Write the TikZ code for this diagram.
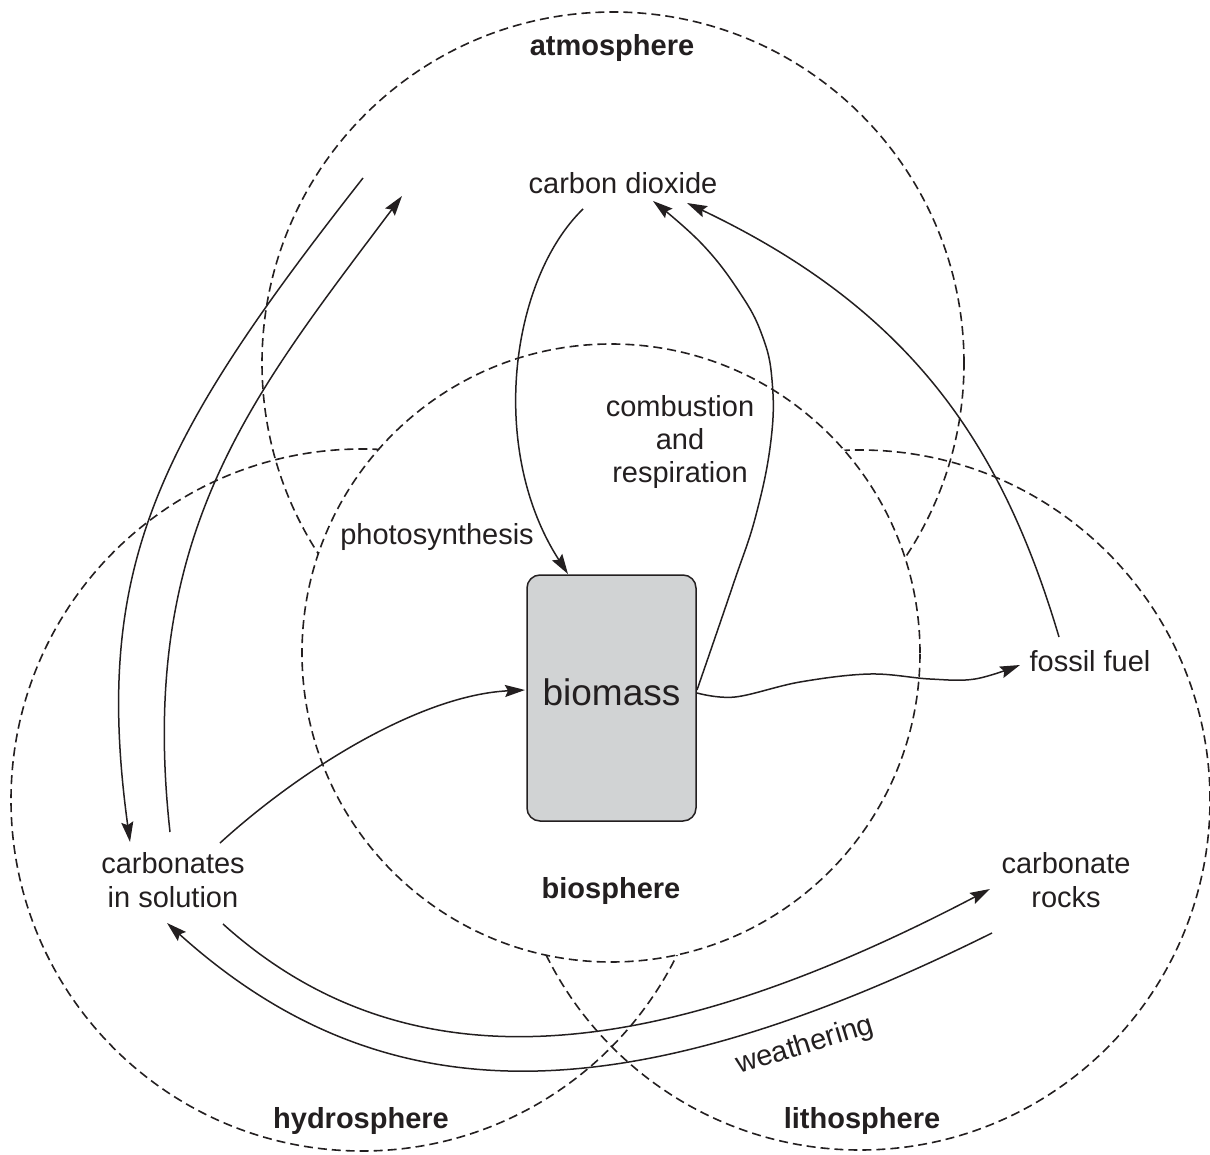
\documentclass[tikz,border=0pt]{standalone}
\usepackage{fontspec}
\setmainfont{Liberation Sans}
\usetikzlibrary{arrows.meta}
\definecolor{ink}{RGB}{35,31,32}
\definecolor{boxgray}{RGB}{209,211,212}
\begin{document}
\begin{tikzpicture}[x=0.5pt,y=-0.5pt,
  sphere/.style={circle, draw=ink, line width=0.8pt, dash pattern=on 4.5pt off 2.5pt, inner sep=0pt, outer sep=0pt},
  lbl/.style={text=ink, font=\fontsize{14.5pt}{16.7pt}\selectfont, align=center, inner sep=0pt},
  blbl/.style={text=ink, font=\fontsize{14.5pt}{16.7pt}\selectfont\bfseries, align=center, inner sep=0pt},
  flow/.style={draw=ink, line width=0.75pt, -{Stealth[length=10pt,width=6pt,inset=1.5pt]}},
]
\useasboundingbox (0,0) rectangle (1210,1155);
% spheres
\node[sphere, minimum size=351pt] (atm) at (613,363) {};
\node[sphere, minimum size=351pt] (hyd) at (362,800) {};
\node[sphere, minimum size=350pt] (lit) at (860,800) {};
\node[sphere, minimum size=309pt, fill=white] (bio) at (611,653) {};
% box
\node[draw=ink, fill=boxgray, line width=0.75pt, rounded corners=6.5pt,
      minimum width=84.5pt, minimum height=123pt, inner sep=0pt,
      font=\fontsize{18.5pt}{22pt}\selectfont, text=ink, text depth=6pt] (biomass) at (611.5,698) {biomass};
% labels
\node[blbl] (atmlbl) at (612,48) {atmosphere};
\node[lbl] (co2) at (623,183) {carbon dioxide};
\node[lbl] (comb) at (680,442) {combustion\\and\\respiration};
\node[lbl] (photo) at (437,537) {photosynthesis};
\node[lbl] (fossil) at (1090,661) {fossil fuel};
\node[lbl] (carbsol) at (173,880) {carbonates\\in solution};
\node[lbl] (carbrock) at (1066,880) {carbonate\\rocks};
\node[blbl] (biolbl) at (611,891) {biosphere};
\node[blbl] (hydlbl) at (361,1121) {hydrosphere};
\node[blbl] (litlbl) at (862,1121) {lithosphere};
\node[lbl, rotate=17] (weath) at (805,1046) {weathering};
% connector ends
\coordinate (phS) at (583,209);
\coordinate (phE) at (568,574);
\coordinate (cbS) at (697,690);
\coordinate (cbE) at (653,201);
\coordinate (ffS) at (1059,637);
\coordinate (ffE) at (687,203);
\coordinate (bfS) at (697,693);
\coordinate (bfE) at (1020,665);
\coordinate (csB) at (220,843);
\coordinate (bmL) at (525,690);
\coordinate (olS) at (363,178);
\coordinate (olE) at (130,842);
\coordinate (ilS) at (170,832);
\coordinate (ilE) at (402,196);
\coordinate (buS) at (223,924);
\coordinate (buE) at (990,889);
\coordinate (blS) at (992,933);
\coordinate (blE) at (167,923);
% connectors
\draw[flow] (phS) .. controls (510,280) and (488,450) .. (phE);
\draw[flow] plot[smooth, tension=0.7] coordinates {(cbS) (733,585) (756,515) (771,440) (772,380) (762,335) (740,293) (702,244) (cbE)};
\draw[flow] (ffS) .. controls (1002,445) and (912,310) .. (ffE);
\draw[flow] plot[smooth, tension=0.6] coordinates {(bfS) (735,697) (800,682) (870,674) (930,679) (975,679) (bfE)};
\draw[flow] (csB) .. controls (300,770) and (420,695) .. (bmL);
\draw[flow] (olS) .. controls (159,438) and (92,565) .. (olE);
\draw[flow] (ilS) .. controls (137,534) and (252,396) .. (ilE);
\draw[flow] (buS) .. controls (416,1098) and (671,1056) .. (buE);
\draw[flow] (blS) .. controls (635,1110) and (390,1124) .. (blE);
\end{tikzpicture}
\end{document}
